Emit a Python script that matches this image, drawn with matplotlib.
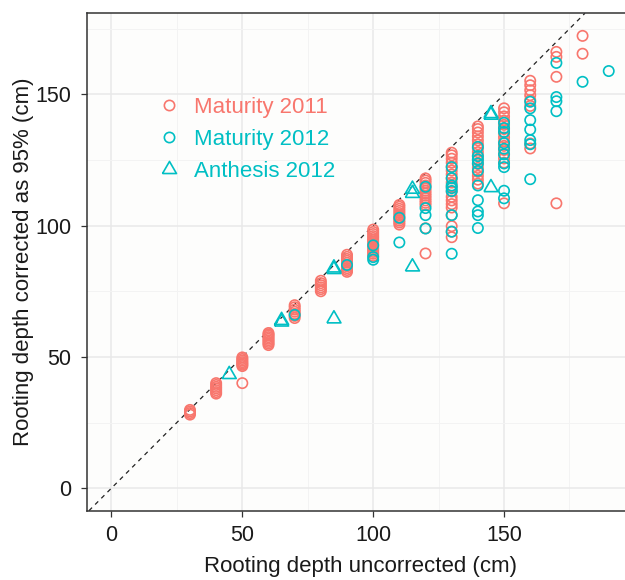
import matplotlib
matplotlib.use("Agg")
import matplotlib.pyplot as plt
from matplotlib.lines import Line2D
from matplotlib.ticker import MultipleLocator

plt.rcParams['font.family'] = ['Liberation Sans', 'DejaVu Sans']

# Maturity 2011 (salmon circles)
m11_x = ([30] * 4 + [40] * 7 + [50] * 8 + [60] * 9 + [70] * 7 + [80] * 6 + [90] * 10
         + [100] * 14 + [110] * 11 + [120] * 14 + [130] * 19 + [140] * 16 + [150] * 15
         + [160] * 8 + [170] * 4 + [180] * 2)
m11_y = [28, 28.6, 29.2, 29.8,
         36, 36.6, 37.3, 38, 38.6, 39.3, 40,
         40, 46.5, 47, 47.5, 48, 48.6, 49.2, 49.8,
         54.5, 55.1, 55.7, 56.3, 56.9, 57.5, 58.1, 58.6, 59.1,
         64.8, 65.6, 66.4, 67.2, 68, 68.9, 69.7,
         75, 75.8, 76.5, 77.3, 78.1, 79,
         82.4, 83.1, 83.8, 84.5, 85.2, 85.9, 86.6, 87.3, 88.1, 88.9,
         88.5, 89.3, 90, 90.8, 91.5, 92.3, 93, 93.8, 94.5, 95.3, 96, 96.8, 97.6, 98.5,
         100.4, 101.2, 101.9, 102.6, 103.3, 104, 104.8, 105.6, 106.4, 107.2, 107.9,
         89.4, 99, 107.8, 108.7, 109.6, 110.5, 111.4, 112.3, 113.3, 114.3, 115.3, 116.3, 117.2, 118,
         95.6, 97.7, 99.8, 104, 106.9, 108.2, 109.6, 111, 113, 114.8, 116.4, 118, 119.5,
         121, 122.5, 124, 125.5, 126.8, 127.8,
         116, 117.5, 119, 120.5, 122, 123.5, 125, 126.5, 128, 129.5, 131, 132.5, 134, 135.5, 136.8, 137.8,
         108.5, 124, 125.6, 127.2, 128.8, 130.4, 132, 133.6, 135.2, 136.8, 138.4, 140, 141.6, 143.2, 144.7,
         129.4, 131.3, 145.6, 147.8, 149.7, 151.6, 153.5, 155.2,
         108.5, 156.7, 164.3, 166.2,
         165.5, 172.3]

# Maturity 2012 (cyan circles)
m12_x = ([70] + [90] + [100] * 3 + [110] * 2 + [120] * 4 + [130] * 8 + [140] * 10
         + [150] * 10 + [160] * 7 + [170] * 4 + [180] + [190])
m12_y = [66,
         85,
         87, 88, 92.5,
         93.6, 103,
         98.9, 104, 106.7, 114.8,
         89.3, 97.7, 104, 113.2, 114.3, 115.3, 118.1, 122.3,
         99.1, 104, 105.4, 109.7, 115.3, 120.9, 123.7, 125.2, 126.5, 130,
         110.4, 113.3, 122.3, 123.7, 127.2, 129.3, 131.4, 135.7, 137.2, 139.2,
         117.7, 131, 132.6, 136.6, 140.2, 144.7, 147.2,
         143.6, 147.4, 149, 162,
         154.8,
         158.9]

# Anthesis 2012 (cyan triangles)
a12_x = [45, 65, 65, 85, 85, 85, 115, 115, 115, 145, 145, 145]
a12_y = [43.3, 63.3, 63.9, 83.3, 83.9, 64.5, 112.3, 113.9, 84.3, 142.1, 142.7, 114.5]

salmon = '#F8766D'
cyan = '#00BFC4'

# equilateral triangle centred on its centroid (like R's pch 2)
tri = [(-0.866, -0.5), (0.866, -0.5), (0, 1), (-0.866, -0.5)]

fig = plt.figure(figsize=(6.25, 5.8), dpi=100)
fig.patch.set_facecolor('white')
ax = fig.add_axes([86.6 / 625, 1 - 510.7 / 580, 547 / 625, 497.4 / 580])
ax.set_facecolor('#fdfdfc')

ax.set_xlim(-9.5, 199.5)
ax.set_ylim(-8.6, 180.9)

ax.xaxis.set_major_locator(MultipleLocator(50))
ax.yaxis.set_major_locator(MultipleLocator(50))
ax.xaxis.set_minor_locator(MultipleLocator(25))
ax.yaxis.set_minor_locator(MultipleLocator(25))
ax.grid(True, which='major', color='#e9e9e9', lw=1.1, zorder=0)
ax.grid(True, which='minor', color='#f3f3f3', lw=0.7, zorder=0)
ax.set_axisbelow(True)

ax.axline((0, 0), slope=1, color='#222222', lw=0.9, ls=(0, (3.5, 3.5)), zorder=1)

ax.scatter(m11_x, m11_y, s=55, facecolors='none', edgecolors=salmon, linewidths=1.2, zorder=3)
ax.scatter(m12_x, m12_y, s=55, facecolors='none', edgecolors=cyan, linewidths=1.2, zorder=4)
ax.scatter(a12_x, a12_y, s=135, marker=tri, facecolors='none', edgecolors=cyan,
           linewidths=1.2, zorder=5)

for side in ['left', 'bottom', 'top', 'right']:
    ax.spines[side].set_color('#333333')
    ax.spines[side].set_linewidth(1.1)
ax.tick_params(which='major', length=4, width=0.9, color='#333333',
               labelsize=15.5, labelcolor='#1a1a1a')
ax.tick_params(axis='x', pad=6)
ax.tick_params(axis='y', pad=7)
ax.tick_params(which='minor', length=0)

ax.set_xlabel('Rooting depth uncorrected (cm)', fontsize=16, color='#1a1a1a', labelpad=7.5)
ax.set_ylabel('Rooting depth corrected as 95% (cm)', fontsize=16, color='#1a1a1a', labelpad=1)

handles = [
    Line2D([], [], ls='none', marker='o', ms=7.4, mfc='none', mec=salmon, mew=1.2),
    Line2D([], [], ls='none', marker='o', ms=7.4, mfc='none', mec=cyan, mew=1.2),
    Line2D([], [], ls='none', marker=tri, ms=11.6, mfc='none', mec=cyan, mew=1.2),
]
ax.legend(handles, ['Maturity 2011', 'Maturity 2012', 'Anthesis 2012'],
          labelcolor=[salmon, cyan, cyan], fontsize=16, frameon=False,
          loc='upper left', bbox_to_anchor=(158 / 625, 1 - 97 / 580),
          bbox_transform=fig.transFigure, borderpad=0, borderaxespad=0,
          handlelength=1.0, handletextpad=0.6, labelspacing=0.49)

fig.savefig('out.png', dpi=100)
